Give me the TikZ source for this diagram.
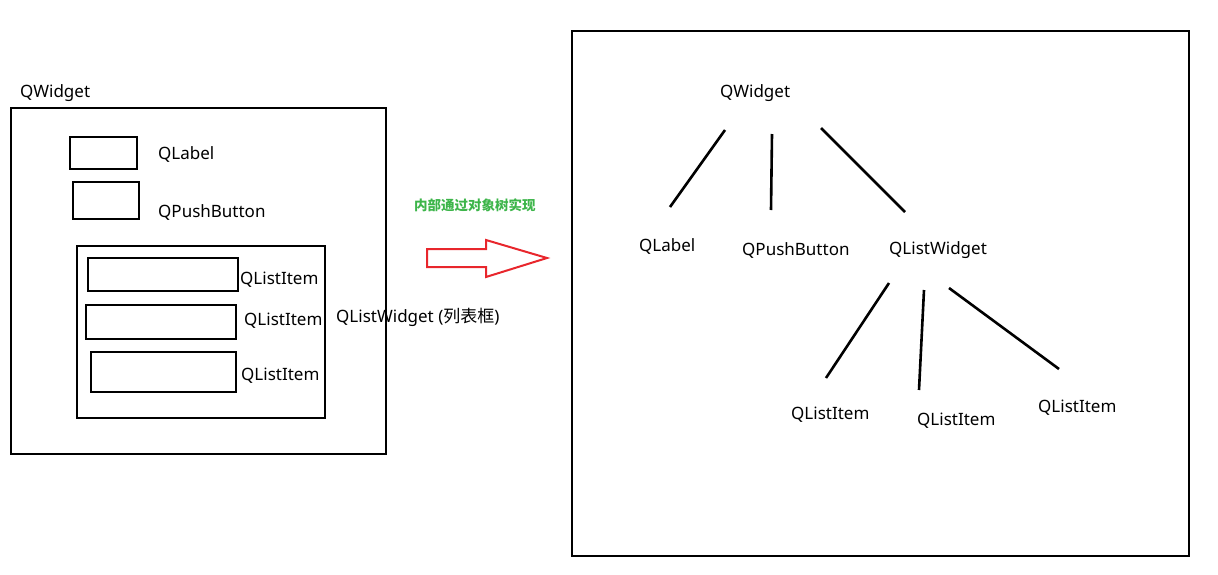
\documentclass[tikz,border=0pt]{standalone}
\usepackage{fontspec}
\setmainfont{Noto Sans}
\newfontfamily\cjk{Noto Sans CJK SC}
\usetikzlibrary{calc}
\definecolor{note}{HTML}{3DB54A}
\definecolor{arrowred}{HTML}{E8262C}
\tikzset{frame/.style={draw=black,line width=2.9pt,anchor=north west,inner sep=0pt,outer sep=0pt},label/.style={anchor=west,inner sep=0pt,yshift=-2pt,font=\fontsize{17}{20}\selectfont},edge/.style={line width=2.6pt,draw=black}}

\begin{document}
\begin{tikzpicture}[x=1pt,y=-1pt]
\useasboundingbox (0,0) rectangle (1218,574);
% left: nested widgets
\node[label] (wtitle) at (20,91) {QWidget};
\node[frame,minimum width=375pt,minimum height=346pt] (outer) at (11,108) {};
\node[frame,minimum width=67pt,minimum height=32pt] (labelbox) at (70,137) {};
\node[label] (labeltxt) at (158,152) {QLabel};
\node[frame,minimum width=66pt,minimum height=37pt] (pushbox) at (73,182) {};
\node[label] (pushtxt) at (158,210) {QPushButton};
\node[frame,minimum width=248pt,minimum height=172pt] (listbox) at (77,246) {};
\node[frame,minimum width=150pt,minimum height=33pt] (itemone) at (88,258) {};
\node[label] (itemonetxt) at (240,278) {QListItem};
\node[frame,minimum width=150pt,minimum height=34pt] (itemtwo) at (86,305) {};
\node[label] (itemtwotxt) at (244,319) {QListItem};
\node[frame,minimum width=145pt,minimum height=40pt] (itemthree) at (91,352) {};
\node[label] (itemthreetxt) at (241,374) {QListItem};
\node[label] (listtxt) at (336,315) {QListWidget ({\cjk 列表框})};
% middle: arrow
\node[anchor=west,inner sep=0pt,text=note,font=\cjk\bfseries\fontsize{13.5}{16}\selectfont] (note) at (414,205) {内部通过对象树实现};
\draw[draw=arrowred,line width=2pt,line join=miter] (427,249) -- (486,249) -- (486,240) -- (547,258) -- (486,277) -- (486,267) -- (427,267) -- cycle;
% right: object tree
\node[frame,minimum width=617pt,minimum height=525pt] (tree) at (572,31) {};
\node[label] (tw) at (720,91) {QWidget};
\node[label] (tl) at (639,244) {QLabel};
\node[label] (tp) at (742,248) {QPushButton};
\node[label] (tlw) at (889,248) {QListWidget};
\node[label] (ti1) at (791,413) {QListItem};
\node[label] (ti2) at (917,419) {QListItem};
\node[label] (ti3) at (1038,406) {QListItem};
\draw[edge] ($(tw.west)+(5,37)$) -- ($(tl.west)+(31,-39)$);
\draw[edge] ($(tw.west)+(52,41)$) -- ($(tp.west)+(29,-40)$);
\draw[edge] ($(tw.west)+(101,35)$) -- ($(tlw.west)+(16,-38)$);
\draw[edge] ($(tlw.west)+(0,33)$) -- ($(ti1.west)+(35,-37)$);
\draw[edge] ($(tlw.west)+(35,40)$) -- ($(ti2.west)+(2,-31)$);
\draw[edge] ($(tlw.west)+(60,38)$) -- ($(ti3.west)+(21,-39)$);
\end{tikzpicture}
\end{document}
